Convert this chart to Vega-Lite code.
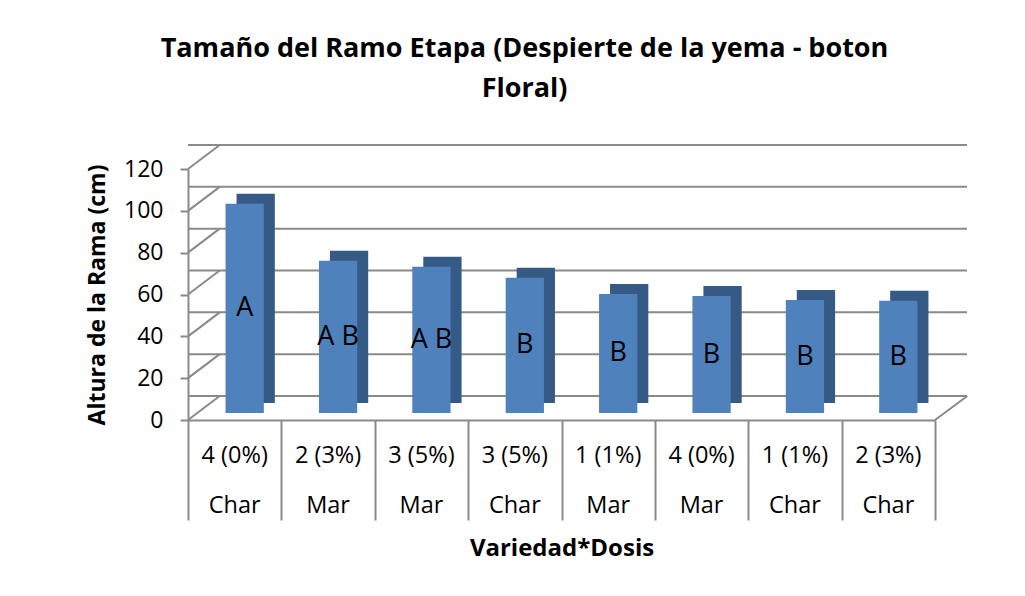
{
  "$schema": "https://vega.github.io/schema/vega-lite/v6.json",
  "width": 747,
  "height": 251,
  "autosize": "none",
  "padding": {"left": 188, "top": 169, "right": 90, "bottom": 176},
  "background": "white",
  "config": {"view": {"stroke": null}, "font": "Open Sans"},
  "title": {
    "text": ["Tamaño del Ramo Etapa (Despierte de la yema - boton", "Floral)"],
    "fontSize": 27,
    "fontWeight": "bold",
    "font": "Open Sans",
    "lineHeight": 40,
    "anchor": "middle",
    "dx": -37,
    "offset": 41,
    "color": "black"
  },
  "datasets": {
    "bars": [
      {"grupo": "4 (0%)|Char", "dosis": "4 (0%)", "variedad": "Char", "altura": 100, "letra": "A"},
      {"grupo": "2 (3%)|Mar", "dosis": "2 (3%)", "variedad": "Mar", "altura": 72.8, "letra": "A B"},
      {"grupo": "3 (5%)|Mar", "dosis": "3 (5%)", "variedad": "Mar", "altura": 69.9, "letra": "A B"},
      {"grupo": "3 (5%)|Char", "dosis": "3 (5%)", "variedad": "Char", "altura": 64.7, "letra": "B"},
      {"grupo": "1 (1%)|Mar", "dosis": "1 (1%)", "variedad": "Mar", "altura": 56.9, "letra": "B"},
      {"grupo": "4 (0%)|Mar", "dosis": "4 (0%)", "variedad": "Mar", "altura": 55.9, "letra": "B"},
      {"grupo": "1 (1%)|Char", "dosis": "1 (1%)", "variedad": "Char", "altura": 54.0, "letra": "B"},
      {"grupo": "2 (3%)|Char", "dosis": "2 (3%)", "variedad": "Char", "altura": 53.7, "letra": "B"}
    ],
    "grid": [{"g": 0}, {"g": 20}, {"g": 40}, {"g": 60}, {"g": 80}, {"g": 100}, {"g": 120}]
  },
  "layer": [
    {
      "layer": [
        {
          "data": {"name": "grid"},
          "mark": {"type": "rule", "color": "#8a8a8a", "strokeWidth": 2, "xOffset": 32, "x2Offset": 32, "yOffset": -24, "y2Offset": -24},
          "encoding": {
            "y": {
              "field": "g",
              "type": "quantitative",
              "scale": {"domain": [0, 120], "nice": false},
              "axis": {
                "title": "Altura de la Rama (cm)",
                "titleFontSize": 23,
                "titleFontWeight": "bold",
                "titleColor": "black",
                "titlePadding": 14,
                "values": [0, 20, 40, 60, 80, 100, 120],
                "labelFontSize": 23,
                "labelColor": "black",
                "labelPadding": 17,
                "tickSize": 8,
                "tickColor": "#8a8a8a",
                "tickWidth": 2,
                "domainColor": "#8a8a8a",
                "domainWidth": 2,
                "grid": false
              }
            }
          }
        },
        {
          "data": {"name": "grid"},
          "mark": {"type": "rule", "color": "#8a8a8a", "strokeWidth": 2, "x2Offset": -15, "y2Offset": -24},
          "encoding": {
            "x": {"datum": "4 (0%)|Char", "type": "nominal", "bandPosition": 0, "axis": null},
            "x2": {"datum": "4 (0%)|Char"},
            "y": {"field": "g", "type": "quantitative"},
            "y2": {"field": "g"}
          }
        },
        {
          "data": {"name": "grid"},
          "transform": [{"filter": "datum.g == 0"}],
          "mark": {"type": "rule", "color": "#8a8a8a", "strokeWidth": 2, "x2Offset": 79, "y2Offset": -24},
          "encoding": {
            "x": {"datum": "2 (3%)|Char", "type": "nominal", "bandPosition": 1, "axis": null},
            "x2": {"datum": "2 (3%)|Char"},
            "y": {"field": "g", "type": "quantitative"},
            "y2": {"field": "g"}
          }
        },
        {
          "data": {"name": "bars"},
          "mark": {"type": "bar", "color": "#355A86", "width": {"band": 0.41}, "xOffset": 21, "x2Offset": 21, "yOffset": -17, "y2Offset": -17},
          "encoding": {
            "x": {
              "field": "grupo",
              "type": "nominal",
              "sort": null,
              "axis": {
                "orient": "bottom",
                "title": null,
                "labels": false,
                "tickBand": "extent",
                "tickSize": 100,
                "tickColor": "#8a8a8a",
                "tickWidth": 2,
                "domainColor": "#8a8a8a",
                "domainWidth": 2,
                "grid": false
              }
            },
            "y": {"field": "altura", "type": "quantitative"}
          }
        },
        {
          "data": {"name": "bars"},
          "mark": {"type": "bar", "color": "#4F81BD", "width": {"band": 0.41}, "xOffset": 10, "x2Offset": 10, "yOffset": -7, "y2Offset": -7},
          "encoding": {
            "x": {
              "field": "grupo",
              "type": "nominal",
              "sort": null,
              "scale": {
                "domain": ["4 (0%)|Char", "2 (3%)|Mar", "3 (5%)|Mar", "3 (5%)|Char", "1 (1%)|Mar", "4 (0%)|Mar", "1 (1%)|Char", "2 (3%)|Char"],
                "paddingInner": 0,
                "paddingOuter": 0
              },
              "axis": {
                "orient": "bottom",
                "title": "Variedad*Dosis",
                "titleFontSize": 24,
                "titleFontWeight": "bold",
                "titleColor": "black",
                "titlePadding": 20,
                "labelExpr": "split(datum.value, '|')",
                "labelFontSize": 23.5,
                "labelColor": "black",
                "labelAngle": 0,
                "labelLineHeight": 50,
                "labelPadding": 23,
                "labelBaseline": "top",
                "ticks": false,
                "tickSize": 0,
                "domain": false,
                "grid": false
              }
            },
            "y": {"field": "altura", "type": "quantitative"}
          }
        }
      ],
      "resolve": {"axis": {"x": "independent"}}
    },
    {
      "data": {"name": "bars"},
      "mark": {"type": "text", "fontSize": 27, "font": "Open Sans", "color": "black", "baseline": "middle", "xOffset": 10, "yOffset": -7},
      "encoding": {
        "x": {"field": "grupo", "type": "nominal", "sort": null, "axis": null},
        "y": {"field": "altura", "type": "quantitative", "scale": {"domain": [0, 240], "nice": false}, "axis": null},
        "text": {"field": "letra"}
      }
    }
  ],
  "resolve": {"scale": {"y": "independent"}}
}
